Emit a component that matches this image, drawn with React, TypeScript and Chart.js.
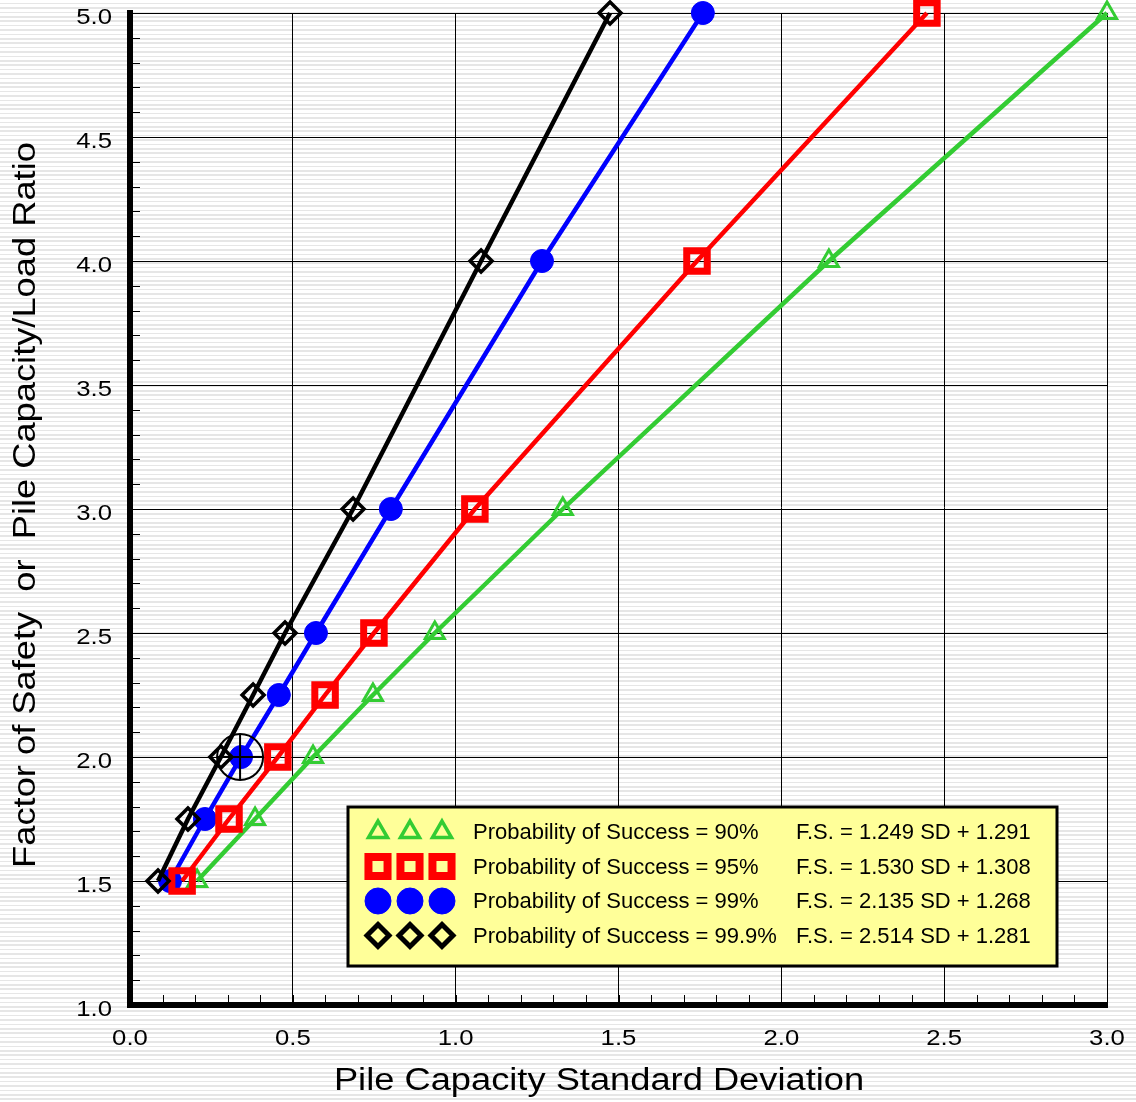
import React, { useEffect, useRef } from 'react';
import { Chart, registerables } from 'chart.js';
import { drawPoint } from 'chart.js/helpers';

Chart.register(...registerables);

const FONT = '"Liberation Sans", Arial, Helvetica, sans-serif';

// Factor of safety levels at which the standard deviation was evaluated
const factorOfSafety = [1.5, 1.75, 2.0, 2.25, 2.5, 3.0, 4.0, 5.0];

// Pile capacity standard deviation for each probability of success
const sd90 = [0.206, 0.384, 0.562, 0.746, 0.936, 1.329, 2.146, 3.0];
const sd95 = [0.16, 0.304, 0.454, 0.599, 0.749, 1.059, 1.741, 2.447];
const sd99 = [0.123, 0.23, 0.341, 0.457, 0.571, 0.801, 1.265, 1.759];
const sd999 = [0.086, 0.178, 0.279, 0.378, 0.476, 0.685, 1.078, 1.474];

const seriesLabels = [
  'Probability of Success = 90%',
  'Probability of Success = 95%',
  'Probability of Success = 99%',
  'Probability of Success = 99.9%',
];
const seriesEquations = [
  'F.S. = 1.249 SD + 1.291',
  'F.S. = 1.530 SD + 1.308',
  'F.S. = 2.135 SD + 1.268',
  'F.S. = 2.514 SD + 1.281',
];

// Highlighted design point
const markedSD = [0.338];
const markedFS = [2.0];

const xTickValues = [0, 0.5, 1.0, 1.5, 2.0, 2.5, 3.0];
const yTickValues = [1.0, 1.5, 2.0, 2.5, 3.0, 3.5, 4.0, 4.5, 5.0];

const xTitle = 'Pile Capacity Standard Deviation';
const yTitle = 'Factor of Safety  or  Pile Capacity/Load Ratio';

// Axis lettering is set slightly wide
const TEXT_STRETCH = 1.17;

type SeriesStyle = {
  sd: number[];
  color: string;
  pointStyle: string;
  radius: number;
  pointBorder: number;
  filled: boolean;
  order: number;
  legendRadius: number;
  legendBorder: number;
};

const seriesStyles: SeriesStyle[] = [
  { sd: sd90, color: '#33cc33', pointStyle: 'triangle', radius: 11, pointBorder: 3, filled: false, order: 3, legendRadius: 11, legendBorder: 3.5 },
  { sd: sd95, color: '#ff0000', pointStyle: 'rect', radius: 14.5, pointBorder: 7, filled: false, order: 2, legendRadius: 13.5, legendBorder: 8 },
  { sd: sd99, color: '#0000ff', pointStyle: 'circle', radius: 11.5, pointBorder: 1, filled: true, order: 4, legendRadius: 13, legendBorder: 1 },
  { sd: sd999, color: '#000000', pointStyle: 'rectRot', radius: 11, pointBorder: 3.5, filled: false, order: 1, legendRadius: 11, legendBorder: 5 },
];

function wideText(ctx: CanvasRenderingContext2D, text: string, x: number, y: number, align: CanvasTextAlign, rotate = 0) {
  ctx.save();
  ctx.translate(x, y);
  if (rotate) ctx.rotate(rotate);
  ctx.scale(TEXT_STRETCH, 1);
  ctx.textAlign = align;
  ctx.textBaseline = 'alphabetic';
  ctx.fillText(text, 0, 0);
  ctx.restore();
}

// Small inward ticks every 0.1 along both axes
const minorTicks = {
  id: 'minorTicks',
  beforeDatasetsDraw(chart: any) {
    const { ctx, chartArea, scales } = chart;
    const { left, bottom } = chartArea;
    ctx.save();
    ctx.strokeStyle = '#000';
    ctx.lineWidth = 1;
    ctx.beginPath();
    for (let i = 1; i < 30; i++) {
      const px = Math.round(scales.x.getPixelForValue(i / 10)) + 0.5;
      ctx.moveTo(px, bottom);
      ctx.lineTo(px, bottom - 10);
    }
    for (let i = 11; i < 50; i++) {
      const py = Math.round(scales.y.getPixelForValue(i / 10)) + 0.5;
      ctx.moveTo(left, py);
      ctx.lineTo(left + 10, py);
    }
    ctx.stroke();
    ctx.restore();
  },
};

// Tick labels and axis titles
const axisText = {
  id: 'axisText',
  afterDraw(chart: any) {
    const { ctx, chartArea, scales } = chart;
    ctx.save();
    ctx.fillStyle = '#000';
    ctx.font = `22px ${FONT}`;
    xTickValues.forEach((v) => {
      wideText(ctx, v.toFixed(1), scales.x.getPixelForValue(v), chartArea.bottom + 40, 'center');
    });
    yTickValues.forEach((v) => {
      wideText(ctx, v.toFixed(1), chartArea.left - 18, scales.y.getPixelForValue(v) + 11, 'right');
    });
    ctx.font = `31px ${FONT}`;
    wideText(ctx, xTitle, chartArea.left + 469, chartArea.bottom + 85, 'center');
    wideText(ctx, yTitle, 35, (chartArea.top + chartArea.bottom) / 2 - 4, 'center', -Math.PI / 2);
    ctx.restore();
  },
};

// Boxed legend with three marker samples, label and fitted equation per row
const boxedLegend = {
  id: 'boxedLegend',
  afterDraw(chart: any) {
    const { ctx, chartArea } = chart;
    const bx = chartArea.left + 218;
    const by = chartArea.top + 794;
    const bw = 709;
    const bh = 159;
    ctx.save();
    ctx.fillStyle = '#ffff99';
    ctx.fillRect(bx, by, bw, bh);
    ctx.lineWidth = 3;
    ctx.strokeStyle = '#000';
    ctx.strokeRect(bx, by, bw, bh);

    const rowY = [25, 59.5, 94, 128.5];
    const markerX = [30, 62, 94];
    seriesStyles.forEach((s, i) => {
      const cy = by + rowY[i];
      ctx.fillStyle = s.filled ? s.color : 'rgba(0,0,0,0)';
      ctx.strokeStyle = s.color;
      ctx.lineWidth = s.legendBorder;
      markerX.forEach((mx) => {
        drawPoint(ctx, { pointStyle: s.pointStyle as any, rotation: 0, radius: s.legendRadius, borderWidth: s.legendBorder }, bx + mx, cy);
      });
      ctx.fillStyle = '#000';
      ctx.font = `22px ${FONT}`;
      ctx.textAlign = 'left';
      ctx.textBaseline = 'middle';
      ctx.fillText(seriesLabels[i], bx + 125, cy + 1);
      ctx.fillText(seriesEquations[i], bx + 448, cy + 1);
    });
    ctx.restore();
  },
};

export default function App() {
  const canvasRef = useRef<HTMLCanvasElement | null>(null);

  useEffect(() => {
    const canvas = canvasRef.current;
    if (!canvas) return;

    const datasets: any[] = seriesStyles.map((s, i) => ({
      label: seriesLabels[i],
      data: factorOfSafety.map((fs, j) => ({ x: s.sd[j], y: fs })),
      borderColor: s.color,
      borderWidth: 4.5,
      backgroundColor: s.color,
      pointStyle: s.pointStyle,
      pointRadius: s.radius,
      pointBorderWidth: s.pointBorder,
      pointBorderColor: s.color,
      pointBackgroundColor: s.filled ? s.color : 'rgba(0,0,0,0)',
      showLine: true,
      tension: 0,
      clip: false,
      order: s.order,
    }));

    datasets.push({
      label: 'marked-circle',
      data: markedSD.map((v, j) => ({ x: v, y: markedFS[j] })),
      showLine: false,
      pointStyle: 'circle',
      pointRadius: 23,
      pointBorderWidth: 2,
      pointBorderColor: '#000',
      pointBackgroundColor: 'rgba(0,0,0,0)',
      clip: false,
      order: 0,
    });
    datasets.push({
      label: 'marked-cross',
      data: markedSD.map((v, j) => ({ x: v, y: markedFS[j] })),
      showLine: false,
      pointStyle: 'cross',
      pointRadius: 23,
      pointBorderWidth: 2,
      pointBorderColor: '#000',
      pointBackgroundColor: 'rgba(0,0,0,0)',
      clip: false,
      order: 0,
    });

    const chart = new Chart(canvas, {
      type: 'scatter',
      data: { datasets },
      plugins: [minorTicks, axisText, boxedLegend],
      options: {
        animation: false,
        responsive: false,
        maintainAspectRatio: false,
        events: [],
        layout: { autoPadding: false, padding: { top: 13, right: 29, left: 0, bottom: 0 } },
        plugins: {
          legend: { display: false },
          tooltip: { enabled: false },
          title: { display: false },
        },
        scales: {
          x: {
            type: 'linear',
            min: 0,
            max: 3,
            afterBuildTicks: (scale: any) => {
              scale.ticks = xTickValues.map((v) => ({ value: v }));
            },
            afterFit: (scale: any) => {
              scale.height = 97;
              scale.paddingLeft = 0;
              scale.paddingRight = 0;
            },
            grid: { color: '#000', lineWidth: 1, drawTicks: false },
            border: { display: true, color: '#000', width: 6 },
            ticks: { display: false },
          },
          y: {
            type: 'linear',
            min: 1,
            max: 5,
            afterBuildTicks: (scale: any) => {
              scale.ticks = yTickValues.map((v) => ({ value: v }));
            },
            afterFit: (scale: any) => {
              scale.width = 130;
              scale.paddingTop = 0;
              scale.paddingBottom = 0;
            },
            grid: { color: '#000', lineWidth: 1, drawTicks: false },
            border: { display: true, color: '#000', width: 6 },
            ticks: { display: false },
          },
        },
      } as any,
    });

    return () => chart.destroy();
  }, []);

  return (
    <div
      style={{
        position: 'absolute',
        left: 0,
        top: 0,
        width: 1136,
        height: 1102,
        background:
          'repeating-linear-gradient(to bottom, #ffffff 0px, #ffffff 2.8px, #e6e6e6 2.8px, #e6e6e6 4.4px)',
      }}
    >
      <canvas ref={canvasRef} width={1136} height={1102} style={{ display: 'block', width: 1136, height: 1102 }} />
    </div>
  );
}
